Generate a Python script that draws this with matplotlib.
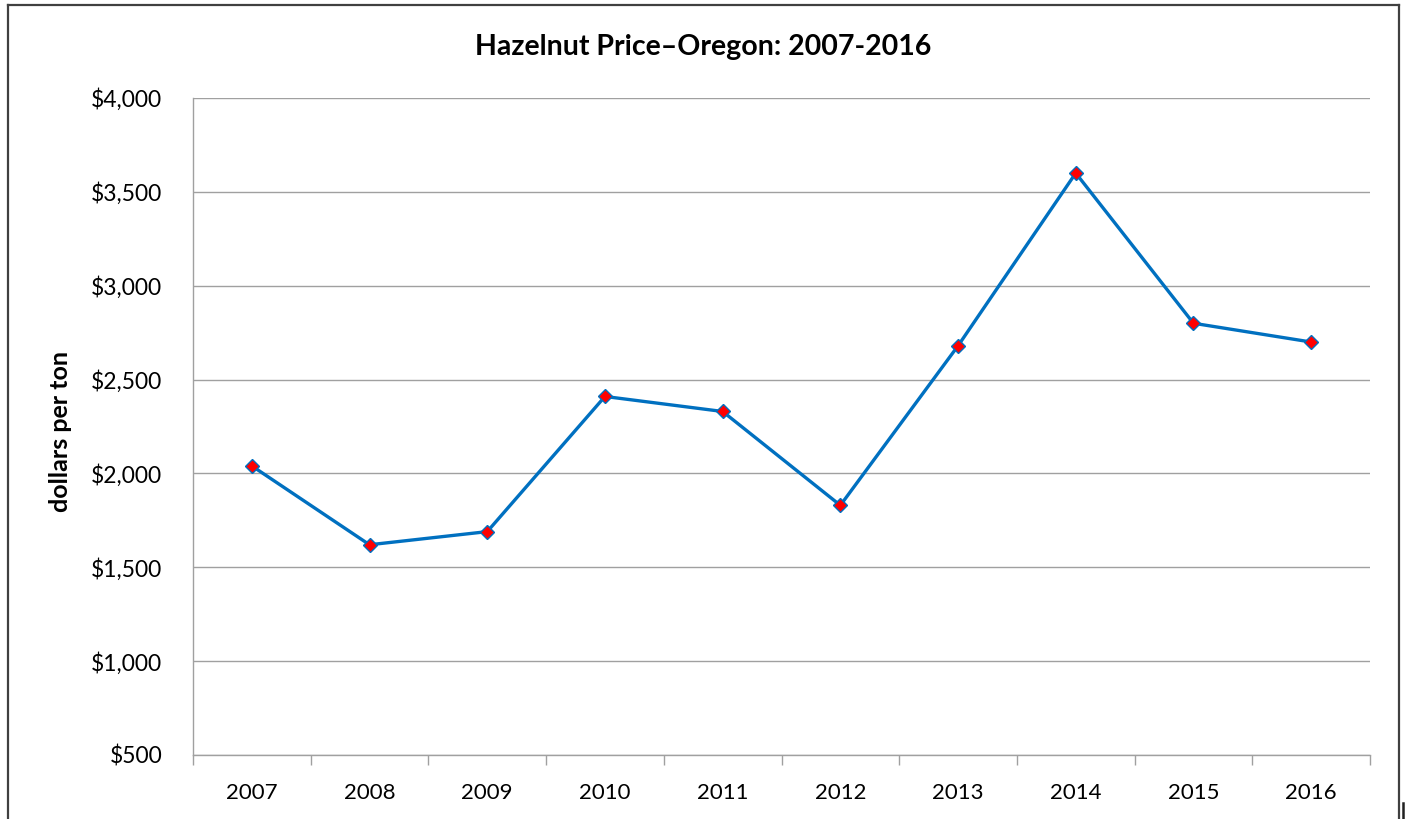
import matplotlib
matplotlib.use("Agg")
import matplotlib.pyplot as plt
from matplotlib.lines import Line2D
from matplotlib.ticker import FuncFormatter

years = ["2007", "2008", "2009", "2010", "2011", "2012", "2013", "2014", "2015", "2016"]
prices = [2040, 1620, 1690, 2410, 2330, 1830, 2680, 3600, 2800, 2700]
y_ticks = [500, 1000, 1500, 2000, 2500, 3000, 3500, 4000]

plt.rcParams['font.family'] = ['Lato', 'DejaVu Sans']

fig = plt.figure(figsize=(14.08, 8.19), dpi=100)
ax = fig.add_axes([193/1408, 1-755/819, (1370-193)/1408, (755-98)/819])

x = list(range(1, len(years) + 1))
ax.plot(x, prices, color='#0070C0', linewidth=2.4, marker='D', markersize=7,
        markerfacecolor='#FF0000', markeredgecolor='#0070C0', markeredgewidth=1.0, zorder=3)

ax.set_xlim(0.5, len(years) + 0.5)
ax.set_ylim(500, 4000)
ax.set_yticks(y_ticks)
ax.yaxis.set_major_formatter(FuncFormatter(lambda v, p: f"${v:,.0f}"))
ax.set_xticks(x)
ax.set_xticklabels(years)
ax.tick_params(axis='x', which='major', length=0, labelsize=16, pad=20)
ax.set_xticks([i + 0.5 for i in range(0, len(years) + 1)], minor=True)
ax.tick_params(axis='x', which='minor', length=7, color='#A0A0A0', width=1)
ax.tick_params(axis='y', length=0, labelsize=16.5, pad=22)
ax.grid(axis='y', color='#A0A0A0', linewidth=1)
ax.set_axisbelow(True)
for s in ['top', 'right']:
    ax.spines[s].set_visible(False)
for s in ['left', 'bottom']:
    ax.spines[s].set_color('#A0A0A0')
    ax.spines[s].set_linewidth(1)

ax.set_ylabel("dollars per ton", fontsize=18, fontweight='bold')
ax.yaxis.set_label_coords(72/1408, 1-432/819, transform=fig.transFigure)
fig.text(703/1408, 1-47/819, "Hazelnut Price\u2013Oregon: 2007-2016", ha='center', va='center',
         fontsize=20.5, fontweight='bold')

# outer chart frame
fig.add_artist(Line2D([8/1408, 8/1408], [-0.01, 1-5/819], color='#404040', linewidth=1.6, transform=fig.transFigure))
fig.add_artist(Line2D([8/1408, 1399/1408], [1-5/819, 1-5/819], color='#404040', linewidth=1.6, transform=fig.transFigure))
fig.add_artist(Line2D([1399/1408, 1399/1408], [-0.01, 1-5/819], color='#404040', linewidth=1.6, transform=fig.transFigure))
fig.add_artist(Line2D([1403/1408, 1403/1408], [0, 1-803/819], color='#202020', linewidth=1.8, transform=fig.transFigure))

fig.savefig("out.png", dpi=100)
